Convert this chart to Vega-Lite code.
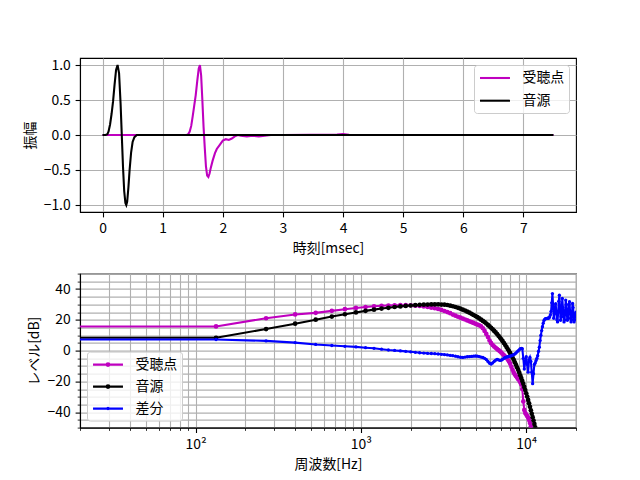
{
  "$schema": "https://vega.github.io/schema/vega-lite/v6.json",
  "background": "white",
  "padding": {"left": 22, "top": 57, "right": 0, "bottom": 0},
  "config": {
    "font": "Noto Sans CJK JP",
    "view": {"stroke": "black", "strokeWidth": 1.1},
    "axis": {
      "domainColor": "black",
      "domainWidth": 1.1,
      "tickColor": "black",
      "tickWidth": 1.1,
      "tickSize": 4.9,
      "labelColor": "black",
      "labelFontSize": 13.9,
      "labelPadding": 4.9,
      "titleColor": "black",
      "titleFontSize": 13.9,
      "titleFontWeight": "normal",
      "titlePadding": 6,
      "gridColor": "#b0b0b0",
      "gridWidth": 1.1
    },
    "legend": {
      "labelFontSize": 13.9,
      "labelColor": "black",
      "padding": 4.5,
      "offset": 7,
      "rowPadding": 6.7,
      "fillColor": "rgba(255,255,255,0.8)",
      "strokeColor": "#cccccc",
      "cornerRadius": 3,
      "symbolSize": 196,
      "symbolStrokeWidth": 2.08,
      "symbolOffset": 8,
      "labelOffset": 19
    }
  },
  "spacing": 61.6,
  "bounds": "flush",
  "resolve": {
    "scale": {"x": "independent", "y": "independent", "color": "independent"},
    "legend": {"color": "independent"}
  },
  "vconcat": [
    {
      "width": 496,
      "height": 154,
      "data": {
        "values": [
          {"t": 0, "受聴点": 0, "音源": 0},
          {"t": 0.05, "受聴点": 0, "音源": 0},
          {"t": 0.08, "受聴点": 0, "音源": 0.01},
          {"t": 0.1, "受聴点": 0, "音源": 0.05},
          {"t": 0.125, "受聴点": 0, "音源": 0.15},
          {"t": 0.15, "受聴点": 0, "音源": 0.3},
          {"t": 0.175, "受聴点": 0, "音源": 0.48},
          {"t": 0.2, "受聴点": 0, "音源": 0.72},
          {"t": 0.225, "受聴点": 0, "音源": 0.93},
          {"t": 0.25, "受聴点": 0, "音源": 1.0},
          {"t": 0.275, "受聴点": 0, "音源": 0.88},
          {"t": 0.3, "受聴点": 0, "音源": 0.45},
          {"t": 0.32, "受聴点": 0, "音源": 0.0},
          {"t": 0.34, "受聴点": 0, "音源": -0.45},
          {"t": 0.36, "受聴点": 0, "音源": -0.8},
          {"t": 0.38, "受聴点": 0, "音源": -0.97},
          {"t": 0.395, "受聴点": 0, "音源": -1.0},
          {"t": 0.41, "受聴点": 0, "音源": -0.95},
          {"t": 0.43, "受聴点": 0, "音源": -0.75},
          {"t": 0.45, "受聴点": 0, "音源": -0.5},
          {"t": 0.475, "受聴点": 0, "音源": -0.25},
          {"t": 0.5, "受聴点": 0, "音源": -0.1},
          {"t": 0.53, "受聴点": 0, "音源": -0.03},
          {"t": 0.57, "受聴点": 0, "音源": 0},
          {"t": 1.0, "受聴点": 0, "音源": 0},
          {"t": 1.4, "受聴点": 0, "音源": 0},
          {"t": 1.425, "受聴点": 0.01, "音源": 0},
          {"t": 1.45, "受聴点": 0.05, "音源": 0},
          {"t": 1.475, "受聴点": 0.13, "音源": 0},
          {"t": 1.5, "受聴点": 0.27, "音源": 0},
          {"t": 1.525, "受聴点": 0.42, "音源": 0},
          {"t": 1.55, "受聴点": 0.57, "音源": 0},
          {"t": 1.575, "受聴点": 0.77, "音源": 0},
          {"t": 1.6, "受聴点": 0.95, "音源": 0},
          {"t": 1.62, "受聴点": 1.0, "音源": 0},
          {"t": 1.64, "受聴点": 0.85, "音源": 0},
          {"t": 1.66, "受聴点": 0.5, "音源": 0},
          {"t": 1.68, "受聴点": 0.12, "音源": 0},
          {"t": 1.7, "受聴点": -0.18, "音源": 0},
          {"t": 1.72, "受聴点": -0.45, "音源": 0},
          {"t": 1.74, "受聴点": -0.58, "音源": 0},
          {"t": 1.76, "受聴点": -0.6, "音源": 0},
          {"t": 1.78, "受聴点": -0.55, "音源": 0},
          {"t": 1.8, "受聴点": -0.47, "音源": 0},
          {"t": 1.83, "受聴点": -0.37, "音源": 0},
          {"t": 1.87, "受聴点": -0.26, "音源": 0},
          {"t": 1.9, "受聴点": -0.2, "音源": 0},
          {"t": 1.95, "受聴点": -0.14, "音源": 0},
          {"t": 2.0, "受聴点": -0.08, "音源": 0},
          {"t": 2.05, "受聴点": -0.06, "音源": 0},
          {"t": 2.1, "受聴点": -0.07, "音源": 0},
          {"t": 2.15, "受聴点": -0.05, "音源": 0},
          {"t": 2.2, "受聴点": -0.02, "音源": 0},
          {"t": 2.25, "受聴点": 0.0, "音源": 0},
          {"t": 2.3, "受聴点": -0.01, "音源": 0},
          {"t": 2.4, "受聴点": -0.02, "音源": 0},
          {"t": 2.5, "受聴点": -0.01, "音源": 0},
          {"t": 2.6, "受聴点": -0.02, "音源": 0},
          {"t": 2.7, "受聴点": -0.01, "音源": 0},
          {"t": 2.8, "受聴点": 0, "音源": 0},
          {"t": 3.0, "受聴点": 0, "音源": 0},
          {"t": 3.9, "受聴点": 0.005, "音源": 0},
          {"t": 4.0, "受聴点": 0.012, "音源": 0},
          {"t": 4.1, "受聴点": 0.003, "音源": 0},
          {"t": 4.2, "受聴点": 0, "音源": 0},
          {"t": 5.0, "受聴点": 0, "音源": 0},
          {"t": 6.0, "受聴点": 0, "音源": 0},
          {"t": 7.0, "受聴点": 0, "音源": 0},
          {"t": 7.5, "受聴点": 0, "音源": 0}
        ]
      },
      "transform": [{"fold": ["受聴点", "音源"], "as": ["系列", "振幅"]}],
      "encoding": {
        "x": {
          "field": "t",
          "type": "quantitative",
          "scale": {"domain": [-0.375, 7.875], "nice": false, "zero": false},
          "axis": {"title": "時刻[msec]", "values": [0, 1, 2, 3, 4, 5, 6, 7], "format": "d"}
        },
        "y": {
          "field": "振幅",
          "type": "quantitative",
          "scale": {"domain": [-1.1, 1.1], "nice": false},
          "axis": {"title": "振幅", "values": [-1, -0.5, 0, 0.5, 1], "format": ".1f"}
        },
        "color": {
          "field": "系列",
          "type": "nominal",
          "scale": {"domain": ["受聴点", "音源"], "range": ["#bf00bf", "black"]},
          "legend": {
            "title": null,
            "orient": "top-right",
            "symbolType": "M-2.14,0L2.14,0"
          }
        }
      },
      "layer": [
        {
          "transform": [{"filter": "datum['系列'] === '受聴点'"}],
          "mark": {"type": "line", "strokeWidth": 2.08, "clip": true}
        },
        {
          "transform": [{"filter": "datum['系列'] === '音源'"}],
          "mark": {"type": "line", "strokeWidth": 2.08, "clip": true}
        }
      ]
    },
    {
      "width": 496,
      "height": 154,
      "data": {
        "values": [
          {"f": 1, "受聴点": 15.7, "音源": 8.3, "差分": 7.2},
          {"f": 133, "受聴点": 15.7, "音源": 8.3, "差分": 7.2},
          {"f": 267, "受聴点": 21.0, "音源": 14.0, "差分": 6.3},
          {"f": 400, "受聴点": 23.5, "音源": 17.5, "差分": 5.2},
          {"f": 533, "受聴点": 24.5, "音源": 20.1, "差分": 4.0},
          {"f": 667, "受聴点": 25.8, "音源": 22.1, "差分": 3.3},
          {"f": 800, "受聴点": 26.9, "音源": 23.6, "差分": 2.8},
          {"f": 933, "受聴点": 27.7, "音源": 24.8, "差分": 2.4},
          {"f": 1067, "受聴点": 28.3, "音源": 25.8, "差分": 1.9},
          {"f": 1200, "受聴点": 28.8, "音源": 26.6, "差分": 1.5},
          {"f": 1333, "受聴点": 29.1, "音源": 27.3, "差分": 0.9},
          {"f": 1467, "受聴点": 29.3, "音源": 27.8, "差分": 0.4},
          {"f": 1600, "受聴点": 29.4, "音源": 28.3, "差分": 0.1},
          {"f": 1733, "受聴点": 29.5, "音源": 28.7, "差分": -0.2},
          {"f": 1867, "受聴点": 29.5, "音源": 29.0, "差分": -0.5},
          {"f": 2000, "受聴点": 29.4, "音源": 29.3, "差分": -0.8},
          {"f": 2133, "受聴点": 29.2, "音源": 29.5, "差分": -1.1},
          {"f": 2267, "受聴点": 29.0, "音源": 29.7, "差分": -1.4},
          {"f": 2400, "受聴点": 28.7, "音源": 29.8, "差分": -1.6},
          {"f": 2533, "受聴点": 28.3, "音源": 29.9, "差分": -1.8},
          {"f": 2667, "受聴点": 27.9, "音源": 30.0, "差分": -1.9},
          {"f": 2800, "受聴点": 27.5, "音源": 30.0, "差分": -2.0},
          {"f": 2933, "受聴点": 27.0, "音源": 30.0, "差分": -2.2},
          {"f": 3067, "受聴点": 26.4, "音源": 29.9, "差分": -2.4},
          {"f": 3200, "受聴点": 25.7, "音源": 29.8, "差分": -2.6},
          {"f": 3333, "受聴点": 25.0, "音源": 29.6, "差分": -2.8},
          {"f": 3467, "受聴点": 24.3, "音源": 29.2, "差分": -3.1},
          {"f": 3600, "受聴点": 23.4, "音源": 28.8, "差分": -3.3},
          {"f": 3733, "受聴点": 22.7, "音源": 28.3, "差分": -3.6},
          {"f": 3867, "受聴点": 22.0, "音源": 27.8, "差分": -4.0},
          {"f": 4000, "受聴点": 21.4, "音源": 27.2, "差分": -4.3},
          {"f": 4133, "受聴点": 20.8, "音源": 26.6, "差分": -4.4},
          {"f": 4267, "受聴点": 20.2, "音源": 26.0, "差分": -4.2},
          {"f": 4400, "受聴点": 19.6, "音源": 25.3, "差分": -4.0},
          {"f": 4533, "受聴点": 19.0, "音源": 24.6, "差分": -3.9},
          {"f": 4667, "受聴点": 18.5, "音源": 23.9, "差分": -3.8},
          {"f": 4800, "受聴点": 18.0, "音源": 23.1, "差分": -3.6},
          {"f": 4933, "受聴点": 17.4, "音源": 22.4, "差分": -3.5},
          {"f": 5067, "受聴点": 16.9, "音源": 21.7, "差分": -3.6},
          {"f": 5200, "受聴点": 16.4, "音源": 20.9, "差分": -3.9},
          {"f": 5333, "受聴点": 15.8, "音源": 20.1, "差分": -4.2},
          {"f": 5467, "受聴点": 14.5, "音源": 19.3, "差分": -4.5},
          {"f": 5600, "受聴点": 12.8, "音源": 18.5, "差分": -5.0},
          {"f": 5733, "受聴点": 10.8, "音源": 17.6, "差分": -5.8},
          {"f": 5867, "受聴点": 8.8, "音源": 16.7, "差分": -7.0},
          {"f": 6000, "受聴点": 6.5, "音源": 15.7, "差分": -8.2},
          {"f": 6133, "受聴点": 4.8, "音源": 14.8, "差分": -8.7},
          {"f": 6267, "受聴点": 3.6, "音源": 13.8, "差分": -8.0},
          {"f": 6400, "受聴点": 2.6, "音源": 12.8, "差分": -7.0},
          {"f": 6533, "受聴点": 1.8, "音源": 11.8, "差分": -6.2},
          {"f": 6667, "受聴点": 1.0, "音源": 10.7, "差分": -5.8},
          {"f": 6800, "受聴点": 0.3, "音源": 9.6, "差分": -6.0},
          {"f": 6933, "受聴点": -0.5, "音源": 8.5, "差分": -6.4},
          {"f": 7067, "受聴点": -1.3, "音源": 7.3, "差分": -6.2},
          {"f": 7200, "受聴点": -2.2, "音源": 6.1, "差分": -5.6},
          {"f": 7333, "受聴点": -3.0, "音源": 4.9, "差分": -5.0},
          {"f": 7467, "受聴点": -3.9, "音源": 3.6, "差分": -4.5},
          {"f": 7600, "受聴点": -4.8, "音源": 2.3, "差分": -4.2},
          {"f": 7733, "受聴点": -5.8, "音源": 1.0, "差分": -4.0},
          {"f": 7867, "受聴点": -7.0, "音源": -0.3, "差分": -3.8},
          {"f": 8000, "受聴点": -8.5, "音源": -1.7, "差分": -3.6},
          {"f": 8133, "受聴点": -10.5, "音源": -3.0, "差分": -3.3},
          {"f": 8267, "受聴点": -12.5, "音源": -4.5, "差分": -3.0},
          {"f": 8400, "受聴点": -14.2, "音源": -6.0, "差分": -2.6},
          {"f": 8533, "受聴点": -15.5, "音源": -7.6, "差分": -2.2},
          {"f": 8667, "受聴点": -16.5, "音源": -9.2, "差分": -1.6},
          {"f": 8800, "受聴点": -17.5, "音源": -10.8, "差分": -0.8},
          {"f": 8933, "受聴点": -18.4, "音源": -12.5, "差分": -0.2},
          {"f": 9067, "受聴点": -19.3, "音源": -14.2, "差分": 0.5},
          {"f": 9200, "受聴点": -20.5, "音源": -16.0, "差分": 1.2},
          {"f": 9333, "受聴点": -22.0, "音源": -17.8, "差分": 1.5},
          {"f": 9467, "受聴点": -25.0, "音源": -19.7, "差分": 1.2},
          {"f": 9600, "受聴点": -33.0, "音源": -21.6, "差分": -5.0},
          {"f": 9733, "受聴点": -38.5, "音源": -23.6, "差分": -12.0},
          {"f": 9867, "受聴点": -40.5, "音源": -25.6, "差分": -7.0},
          {"f": 10000, "受聴点": -41.5, "音源": -27.7, "差分": -4.0},
          {"f": 10133, "受聴点": -42.5, "音源": -29.8, "差分": -9.0},
          {"f": 10267, "受聴点": -43.5, "音源": -32.0, "差分": -14.0},
          {"f": 10400, "受聴点": -45.0, "音源": -34.2, "差分": -6.0},
          {"f": 10533, "受聴点": -47.0, "音源": -36.5, "差分": -4.4},
          {"f": 10667, "受聴点": -49.2, "音源": -38.8, "差分": -7.0},
          {"f": 10800, "受聴点": -52.0, "音源": -41.0, "差分": -14.0},
          {"f": 10933, "受聴点": -55.0, "音源": -43.2, "差分": -21.5},
          {"f": 11067, "受聴点": -58.0, "音源": -45.4, "差分": -15.0},
          {"f": 11200, "受聴点": -61.0, "音源": -47.6, "差分": -9.0},
          {"f": 11333, "受聴点": -64.0, "音源": -49.8, "差分": -8.0},
          {"f": 11467, "受聴点": -67.0, "音源": -52.0, "差分": -6.5},
          {"f": 11600, "受聴点": -70.0, "音源": -54.5, "差分": -5.0},
          {"f": 11733, "音源": -57.0, "差分": -3.3},
          {"f": 11867, "音源": -59.5, "差分": -0.5},
          {"f": 12000, "音源": -62.0, "差分": 2.2},
          {"f": 12133, "差分": 6.5},
          {"f": 12267, "差分": 10.0},
          {"f": 12400, "差分": 13.0},
          {"f": 12533, "差分": 15.5},
          {"f": 12667, "差分": 17.8},
          {"f": 12800, "差分": 19.5},
          {"f": 12933, "差分": 20.3},
          {"f": 13067, "差分": 20.8},
          {"f": 13200, "差分": 20.8},
          {"f": 13333, "差分": 20.8},
          {"f": 13467, "差分": 21.0},
          {"f": 13600, "差分": 21.0},
          {"f": 13733, "差分": 21.2},
          {"f": 13867, "差分": 22.0},
          {"f": 14000, "差分": 23.2},
          {"f": 14133, "差分": 25.5},
          {"f": 14267, "差分": 31.0},
          {"f": 14400, "差分": 37.0},
          {"f": 14533, "差分": 30.0},
          {"f": 14667, "差分": 21.0},
          {"f": 14800, "差分": 24.0},
          {"f": 14933, "差分": 28.0},
          {"f": 15067, "差分": 30.5},
          {"f": 15200, "差分": 25.0},
          {"f": 15333, "差分": 20.0},
          {"f": 15467, "差分": 18.6},
          {"f": 15600, "差分": 25.0},
          {"f": 15733, "差分": 32.0},
          {"f": 15867, "差分": 36.0},
          {"f": 16000, "差分": 28.0},
          {"f": 16133, "差分": 19.7},
          {"f": 16267, "差分": 22.0},
          {"f": 16400, "差分": 28.0},
          {"f": 16533, "差分": 33.9},
          {"f": 16667, "差分": 28.0},
          {"f": 16800, "差分": 22.0},
          {"f": 16933, "差分": 18.6},
          {"f": 17067, "差分": 20.0},
          {"f": 17200, "差分": 26.0},
          {"f": 17333, "差分": 32.8},
          {"f": 17467, "差分": 30.0},
          {"f": 17600, "差分": 24.0},
          {"f": 17733, "差分": 19.7},
          {"f": 17867, "差分": 20.5},
          {"f": 18000, "差分": 26.0},
          {"f": 18133, "差分": 30.0},
          {"f": 18267, "差分": 31.7},
          {"f": 18400, "差分": 26.0},
          {"f": 18533, "差分": 21.0},
          {"f": 18667, "差分": 18.6},
          {"f": 18800, "差分": 20.0},
          {"f": 18933, "差分": 25.0},
          {"f": 19067, "差分": 30.6},
          {"f": 19200, "差分": 28.0},
          {"f": 19333, "差分": 24.0},
          {"f": 19467, "差分": 18.6},
          {"f": 19600, "差分": 20.0},
          {"f": 19733, "差分": 22.0},
          {"f": 19867, "差分": 24.0},
          {"f": 20000, "差分": 25.0}
        ]
      },
      "transform": [
        {"fold": ["受聴点", "音源", "差分"], "as": ["系列", "レベル"]},
        {"filter": "isValid(datum['レベル'])"}
      ],
      "encoding": {
        "x": {
          "field": "f",
          "type": "quantitative",
          "scale": {"type": "log", "domain": [20, 20000], "nice": false},
          "axis": {
            "title": "周波数[Hz]",
            "grid": true,
            "labelOverlap": false,
            "labelFlush": false,
            "values": [20, 30, 40, 50, 60, 70, 80, 90, 100, 200, 300, 400, 500, 600, 700, 800, 900, 1000, 2000, 3000, 4000, 5000, 6000, 7000, 8000, 9000, 10000, 20000],
            "labelExpr": "datum.value === 100 ? '10²' : datum.value === 1000 ? '10³' : datum.value === 10000 ? '10⁴' : ''",
            "tickSize": {"condition": {"test": "datum.value === 100 || datum.value === 1000 || datum.value === 10000", "value": 4.9}, "value": 2.8},
            "tickWidth": {"condition": {"test": "datum.value === 100 || datum.value === 1000 || datum.value === 10000", "value": 1.1}, "value": 0.8}
          }
        },
        "y": {
          "field": "レベル",
          "type": "quantitative",
          "scale": {"domain": [-50, 50], "nice": false},
          "axis": {
            "title": "レベル[dB]",
            "labelOverlap": false,
            "values": [-50, -45, -40, -35, -30, -25, -20, -15, -10, -5, 0, 5, 10, 15, 20, 25, 30, 35, 40, 45, 50],
            "format": "d",
            "labelExpr": "datum.value % 20 === 0 ? datum.label : ''",
            "tickSize": {"condition": {"test": "datum.value % 20 === 0", "value": 4.9}, "value": 2.8},
            "tickWidth": {"condition": {"test": "datum.value % 20 === 0", "value": 1.1}, "value": 0.8}
          }
        },
        "color": {
          "field": "系列",
          "type": "nominal",
          "scale": {"domain": ["受聴点", "音源", "差分"], "range": ["#bf00bf", "black", "blue"]},
          "legend": {
            "title": null,
            "orient": "bottom-left",
            "rowPadding": 6,
            "symbolType": "M-2.14,0L2.14,0",
            "encode": {
              "symbols": {
                "update": {
                  "shape": {"signal": "datum.value === '差分' ? 'M-2.14,0L2.14,0M-0.1,0A0.1,0.1,0,1,1,0.1,0A0.1,0.1,0,1,1,-0.1,0Z' : 'M-2.14,0L2.14,0M-0.2,0A0.2,0.2,0,1,1,0.2,0A0.2,0.2,0,1,1,-0.2,0Z'"},
                  "fill": {"signal": "datum.value === '受聴点' ? '#bf00bf' : datum.value === '音源' ? 'black' : 'blue'"},
                  "stroke": {"signal": "datum.value === '受聴点' ? '#bf00bf' : datum.value === '音源' ? 'black' : 'blue'"},
                  "fillOpacity": {"value": 1},
                  "opacity": {"value": 1}
                }
              }
            }
          }
        }
      },
      "layer": [
        {
          "transform": [{"filter": "datum['系列'] === '受聴点'"}],
          "mark": {"type": "line", "strokeWidth": 2.08, "clip": true}
        },
        {
          "transform": [{"filter": "datum['系列'] === '受聴点'"}],
          "mark": {"type": "point", "filled": true, "size": 22, "opacity": 1, "clip": true}
        },
        {
          "transform": [{"filter": "datum['系列'] === '音源'"}],
          "mark": {"type": "line", "strokeWidth": 2.08, "clip": true}
        },
        {
          "transform": [{"filter": "datum['系列'] === '音源'"}],
          "mark": {"type": "point", "filled": true, "size": 22, "opacity": 1, "clip": true}
        },
        {
          "transform": [{"filter": "datum['系列'] === '差分'"}],
          "mark": {"type": "line", "strokeWidth": 2.08, "clip": true}
        },
        {
          "transform": [{"filter": "datum['系列'] === '差分'"}],
          "mark": {"type": "point", "filled": true, "size": 11, "opacity": 1, "clip": true}
        }
      ]
    }
  ]
}
